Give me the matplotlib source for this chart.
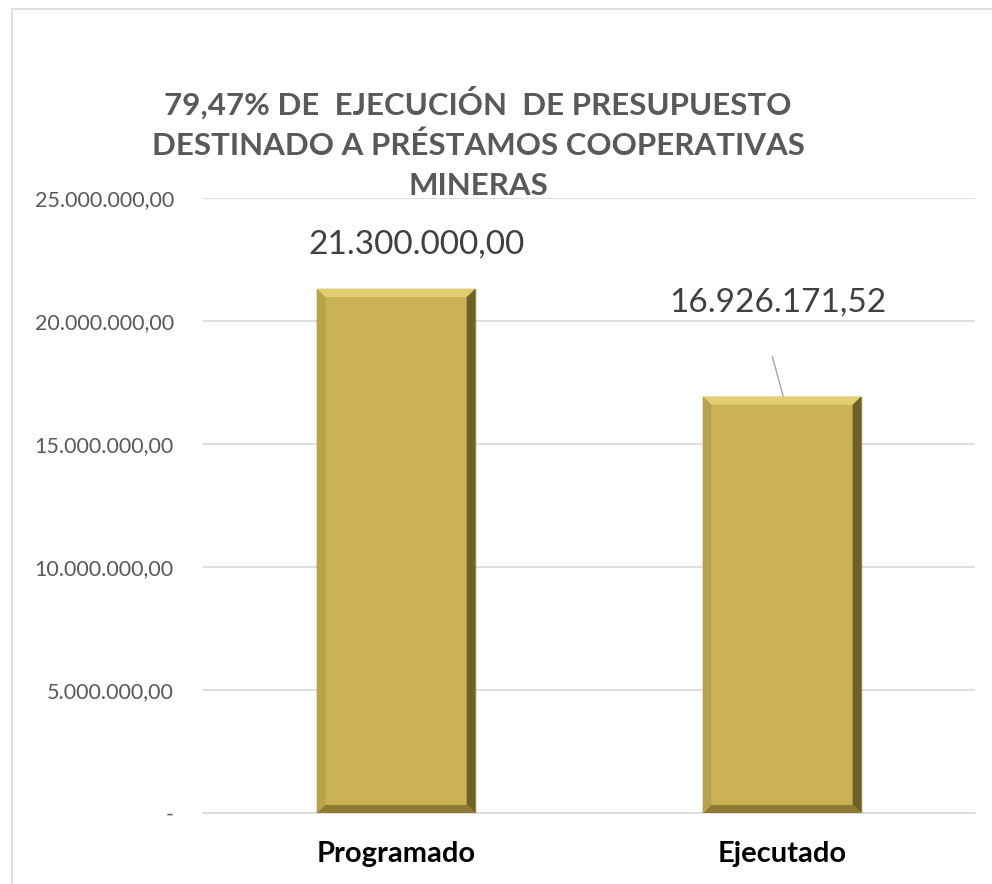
import matplotlib.pyplot as plt
from matplotlib.patches import Rectangle, Polygon
from matplotlib.ticker import FuncFormatter

categories = ["Programado", "Ejecutado"]
values = [21300000.00, 16926171.52]
title = "79,47% DE  EJECUCIÓN  DE PRESUPUESTO\nDESTINADO A PRÉSTAMOS COOPERATIVAS\nMINERAS"

plt.rcParams["font.family"] = ["Lato", "DejaVu Sans"]


def fmt_es(v, pos=None):
    if v == 0:
        return "-"
    s = f"{v:,.2f}"
    return s.replace(",", "X").replace(".", ",").replace("X", ".")


fig = plt.figure(figsize=(9.92, 8.84), dpi=100)
fig.patches.append(Rectangle((12 / 992, -0.01), 1.0, 1.0, transform=fig.transFigure,
                             fill=False, edgecolor="#d9d9d9", linewidth=1.2))

ax = fig.add_axes([203 / 992, 1 - 813 / 884, 772 / 992, 615 / 884])
x = range(len(categories))
bars = ax.bar(x, values, width=0.41, color="#CBB355", edgecolor="#9c8a3c", linewidth=1, zorder=3)

# bevel frame around each bar
bx, by = 0.022, 330000
for b in bars:
    x0, w, h = b.get_x(), b.get_width(), b.get_height()
    x1 = x0 + w
    sides = [
        ([(x0, h), (x1, h), (x1 - bx, h - by), (x0 + bx, h - by)], "#E2CD70"),
        ([(x1, h), (x1, 0), (x1 - bx, by), (x1 - bx, h - by)], "#6f6127"),
        ([(x0, 0), (x1, 0), (x1 - bx, by), (x0 + bx, by)], "#8d7b34"),
        ([(x0, 0), (x0, h), (x0 + bx, h - by), (x0 + bx, by)], "#b8a24a"),
    ]
    for pts, c in sides:
        ax.add_patch(Polygon(pts, closed=True, color=c, lw=0, zorder=4))

ax.set_xlim(-0.5, 1.5)
ax.set_ylim(0, 25000000)
ax.set_yticks([0, 5000000, 10000000, 15000000, 20000000, 25000000])
ax.yaxis.set_major_formatter(FuncFormatter(fmt_es))
ax.grid(axis="y", color="#d9d9d9", linewidth=1.2, zorder=0)
for side in ["top", "right", "left"]:
    ax.spines[side].set_visible(False)
ax.spines["bottom"].set_color("#d9d9d9")
ax.spines["bottom"].set_linewidth(1.2)
ax.tick_params(axis="y", length=0, labelsize=15.5, labelcolor="#595959", pad=21)
ax.tick_params(axis="x", length=0, pad=20)
ax.set_xticks(list(x))
ax.set_xticklabels(categories, fontsize=21, fontweight="bold", color="black")

# data labels
ax.text(0.052, 23090000, fmt_es(values[0]), ha="center", va="center", fontsize=24, color="#404040")
ax.text(0.99, 20770000, fmt_es(values[1]), ha="center", va="center", fontsize=24, color="#404040")
ax.plot([0.975, 1.003], [18550000, 16950000], color="#a6a6a6", lw=1, zorder=5)

fig.text(478 / 992, 1 - 143 / 884, title, ha="center", va="center", fontsize=22.5,
         fontweight="bold", color="#595959", linespacing=1.5)

fig.savefig("out.png", dpi=100)
